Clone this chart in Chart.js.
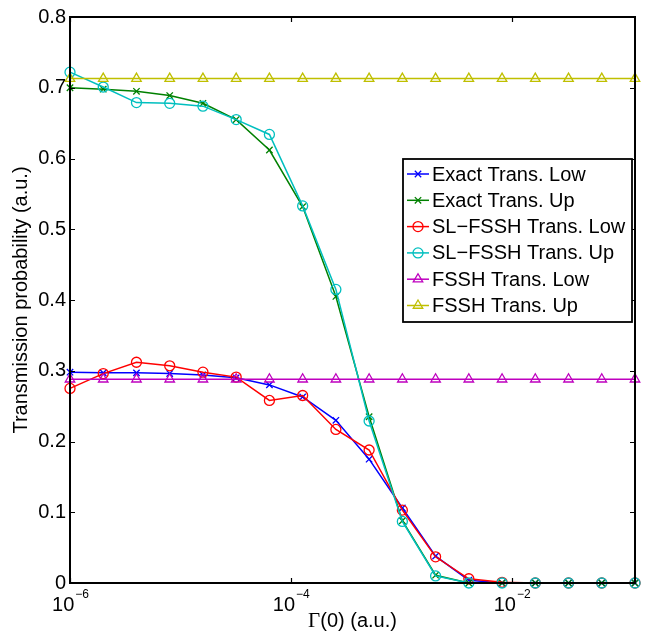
<!DOCTYPE html>
<html>
<head>
<meta charset="utf-8">
<script src="https://cdn.jsdelivr.net/npm/chart.js@4"></script>
<style>
  html, body { margin: 0; padding: 0; background: #fff; }
  #wrap { width: 651px; height: 634px; }
</style>
</head>
<body>
<div id="wrap"><canvas id="myChart" width="651" height="634"></canvas></div>
<script>
// Gamma(0) values (a.u.)
const gammaValues = [1e-6, 2e-6, 4e-6, 8e-6, 1.6e-5, 3.2e-5, 6.4e-5, 1.28e-4, 2.56e-4, 5.12e-4,
    1.024e-3, 2.048e-3, 4.096e-3, 8.192e-3, 1.6384e-2, 3.2768e-2, 6.5536e-2, 1.31072e-1];

const exactLow = [0.298, 0.297, 0.297, 0.296, 0.294, 0.290, 0.280, 0.263, 0.230, 0.175,
    0.106, 0.038, 0.004, 0, 0, 0, 0, 0];
const exactUp = [0.700, 0.698, 0.695, 0.689, 0.678, 0.655, 0.612, 0.532, 0.405, 0.235,
    0.088, 0.011, 0, 0, 0, 0, 0, 0];
const slLow = [0.275, 0.296, 0.312, 0.307, 0.298, 0.291, 0.258, 0.265, 0.217, 0.188,
    0.103, 0.037, 0.006, 0.001, 0, 0, 0, 0];
const slUp = [0.722, 0.701, 0.679, 0.678, 0.674, 0.655, 0.634, 0.533, 0.415, 0.229,
    0.087, 0.010, 0, 0, 0, 0, 0, 0];
const fsshLow = [0.288, 0.288, 0.288, 0.288, 0.288, 0.288, 0.288, 0.288, 0.288, 0.288,
    0.288, 0.288, 0.288, 0.288, 0.288, 0.288, 0.288, 0.288];
const fsshUp = [0.713, 0.713, 0.713, 0.713, 0.713, 0.713, 0.713, 0.713, 0.713, 0.713,
    0.713, 0.713, 0.713, 0.713, 0.713, 0.713, 0.713, 0.713];

const seriesNames = ['Exact Trans. Low', 'Exact Trans. Up', 'SL\u2212FSSH Trans. Low',
    'SL\u2212FSSH Trans. Up', 'FSSH Trans. Low', 'FSSH Trans. Up'];
const seriesData = [exactLow, exactUp, slLow, slUp, fsshLow, fsshUp];
const seriesColors = ['#0000ff', '#008000', '#ff0000', '#00bfbf', '#bf00bf', '#bfbf00'];
const seriesMarkers = ['crossRot', 'crossRot', 'circle', 'circle', 'triangle', 'triangle'];
const markerSizes = [4.5, 4.5, 5, 5, 5.5, 5.5];

const xTicks = [1e-6, 1e-4, 1e-2];
const xTickExp = ['\u22126', '\u22124', '\u22122'];
const yTicks = [0, 0.1, 0.2, 0.3, 0.4, 0.5, 0.6, 0.7, 0.8];

const FONT = '"Liberation Sans", Arial, Helvetica, sans-serif';
const SERIF = '"Liberation Serif", "Times New Roman", serif';
Chart.defaults.font.family = FONT;
Chart.defaults.color = '#000';

const datasets = seriesNames.map((name, i) => ({
    label: name,
    data: gammaValues.map((g, k) => ({ x: g, y: seriesData[i][k] })),
    borderColor: seriesColors[i],
    backgroundColor: 'transparent',
    borderWidth: 1.5,
    pointStyle: seriesMarkers[i],
    pointRadius: markerSizes[i],
    pointBorderWidth: 1.3,
    pointBackgroundColor: 'transparent',
    pointBorderColor: seriesColors[i],
    tension: 0,
    clip: false,
    order: seriesNames.length - i
}));

// box, inward ticks, x tick labels with exponents, x title, legend
const decorations = {
    id: 'decorations',
    afterDraw(chart) {
        const ctx = chart.ctx;
        const area = chart.chartArea;
        const xs = chart.scales.x;
        const ys = chart.scales.y;
        ctx.save();

        ctx.strokeStyle = '#000';
        ctx.lineWidth = 1.2;
        ctx.beginPath();
        xTicks.forEach(v => {
            const px = Math.round(xs.getPixelForValue(v)) + 0.5;
            ctx.moveTo(px, area.bottom); ctx.lineTo(px, area.bottom - 5);
            ctx.moveTo(px, area.top); ctx.lineTo(px, area.top + 5);
        });
        yTicks.forEach(v => {
            const py = Math.round(ys.getPixelForValue(v)) + 0.5;
            ctx.moveTo(area.left, py); ctx.lineTo(area.left + 5, py);
            ctx.moveTo(area.right, py); ctx.lineTo(area.right - 5, py);
        });
        ctx.stroke();

        ctx.lineWidth = 2;
        ctx.strokeRect(area.left, area.top, area.right - area.left, area.bottom - area.top);

        // x tick labels 10^n
        ctx.fillStyle = '#000';
        ctx.textBaseline = 'alphabetic';
        ctx.textAlign = 'left';
        xTicks.forEach((v, i) => {
            const px = xs.getPixelForValue(v);
            ctx.font = '20px ' + FONT;
            const wBase = ctx.measureText('10').width;
            ctx.font = '12px ' + FONT;
            const wExp = ctx.measureText(xTickExp[i]).width;
            const x0 = px - (wBase + wExp) / 2;
            ctx.font = '20px ' + FONT;
            ctx.fillText('10', x0, area.bottom + 28);
            ctx.font = '12px ' + FONT;
            ctx.fillText(xTickExp[i], x0 + wBase + 1, area.bottom + 15);
        });

        // x axis title: Gamma in serif, rest in sans
        ctx.font = '21px ' + SERIF;
        const wG = ctx.measureText('\u0393').width;
        ctx.font = '20px ' + FONT;
        const rest = '(0) (a.u.)';
        const wR = ctx.measureText(rest).width;
        const tx = (area.left + area.right) / 2 - (wG + wR) / 2;
        const ty = area.bottom + 44;
        ctx.font = '21px ' + SERIF;
        ctx.fillText('\u0393', tx, ty);
        ctx.font = '20px ' + FONT;
        ctx.fillText(rest, tx + wG, ty);

        // legend
        const lx = area.right - 3, lw = 229;
        const left = lx - lw, top = area.top + 142, h = 163;
        ctx.fillStyle = '#fff';
        ctx.fillRect(left, top, lw, h);
        ctx.lineWidth = 1.8;
        ctx.strokeStyle = '#000';
        ctx.strokeRect(left, top, lw, h);
        ctx.save();
        ctx.beginPath();
        ctx.rect(left, top, lw, h);
        ctx.clip();
        chart.data.datasets.forEach((ds, i) => {
            const cy = top + 15 + i * 26.3;
            ctx.strokeStyle = ds.borderColor;
            ctx.lineWidth = 1.5;
            ctx.beginPath();
            ctx.moveTo(left + 4, cy); ctx.lineTo(left + 26, cy);
            ctx.stroke();
            ctx.fillStyle = 'transparent';
            ctx.lineWidth = 1.3;
            Chart.helpers.drawPoint(ctx, {
                pointStyle: ds.pointStyle, radius: ds.pointRadius, rotation: 0, borderWidth: 1.3
            }, left + 15, cy);
            ctx.fillStyle = '#000';
            ctx.font = '20px ' + FONT;
            ctx.textBaseline = 'middle';
            ctx.fillText(ds.label, left + 29, cy + 1);
        });
        ctx.restore();

        ctx.restore();
    }
};

new Chart(document.getElementById('myChart'), {
    type: 'line',
    data: { datasets: datasets },
    options: {
        responsive: false,
        animation: false,
        events: [],
        layout: { padding: { top: 17, right: 16, left: 0, bottom: 0 } },
        plugins: {
            legend: { display: false },
            tooltip: { enabled: false }
        },
        scales: {
            x: {
                type: 'logarithmic',
                min: 1e-6,
                max: 1.31072e-1,
                grid: { display: false, drawTicks: false },
                border: { display: false },
                ticks: { display: false },
                afterFit(scale) { scale.height = 51; }
            },
            y: {
                min: 0,
                max: 0.8,
                grid: { display: false, drawTicks: false },
                border: { display: false },
                ticks: {
                    stepSize: 0.1,
                    padding: 4,
                    font: { size: 20 },
                    callback: v => String(+v.toFixed(1))
                },
                title: {
                    display: true,
                    text: 'Transmission probability (a.u.)',
                    font: { size: 20 },
                    padding: { top: 9, bottom: 0 }
                },
                afterFit(scale) { scale.width = 70; }
            }
        }
    },
    plugins: [decorations]
});
</script>
</body>
</html>
